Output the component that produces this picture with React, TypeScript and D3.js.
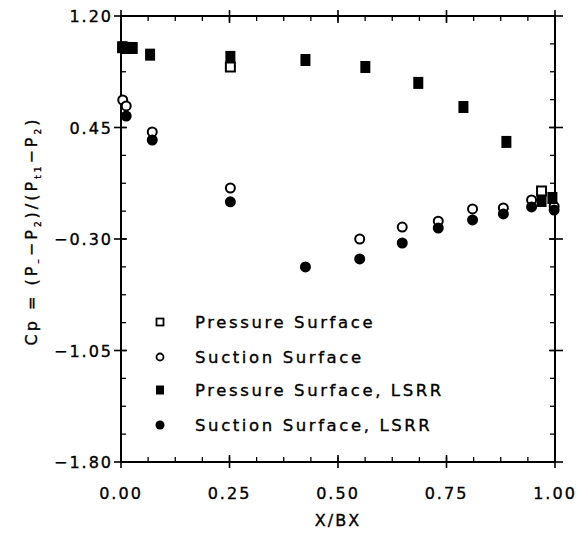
import React from "react";
import * as d3 from "d3";

// ---- data ----
const pressureX = [0.004, 0.252, 0.969];
const pressureY = [0.99, 0.857, 0.023];

const suctionX = [0.004, 0.012, 0.072, 0.252, 0.55, 0.648, 0.731, 0.81, 0.881, 0.946, 0.998];
const suctionY = [0.635, 0.595, 0.42, 0.043, -0.3, -0.22, -0.18, -0.098, -0.091, -0.037, -0.08];

const pressureLsrrX = [0.003, 0.013, 0.027, 0.067, 0.252, 0.425, 0.563, 0.685, 0.789, 0.888, 0.969, 0.994];
const pressureLsrrY = [0.99, 0.985, 0.985, 0.94, 0.925, 0.904, 0.857, 0.75, 0.588, 0.353, -0.044, -0.024];

const suctionLsrrX = [0.012, 0.072, 0.252, 0.425, 0.55, 0.648, 0.731, 0.81, 0.881, 0.946, 0.998];
const suctionLsrrY = [0.527, 0.366, -0.05, -0.488, -0.434, -0.327, -0.226, -0.172, -0.131, -0.084, -0.105];

const xTicks = [0, 0.25, 0.5, 0.75, 1.0];
const yTicks = [1.2, 0.45, -0.3, -1.05, -1.8];
const xTickLabels = ["0.00", "0.25", "0.50", "0.75", "1.00"];
const yTickLabels = ["1.20", "0.45", "\u22120.30", "\u22121.05", "\u22121.80"];

const legendLabels = [
  "Pressure Surface",
  "Suction Surface",
  "Pressure Surface, LSRR",
  "Suction Surface, LSRR",
];

const FONT = "'DejaVu Sans', Verdana, sans-serif";

export default function App() {
  const W = 580;
  const H = 535;
  const left = 121, right = 555, top = 16, bottom = 462;
  const x = d3.scaleLinear().domain([0, 1]).range([left, right]);
  const y = d3.scaleLinear().domain([-1.8, 1.2]).range([bottom, top]);

  const xMinor = d3.range(0, 1.0001, 0.0625);
  const yMinor = d3.range(-1.8, 1.2001, 0.1875);

  const zipP = pressureX.map((v, i) => [v, pressureY[i]]);
  const zipS = suctionX.map((v, i) => [v, suctionY[i]]);
  const zipPL = pressureLsrrX.map((v, i) => [v, pressureLsrrY[i]]);
  const zipSL = suctionLsrrX.map((v, i) => [v, suctionLsrrY[i]]);

  const sq = 10;
  const openSq = 9;
  const r = 5;

  const legendX = 160;
  const legendTextX = 195;
  const legendYs = [322, 357, 390, 425];

  const textStyle = {
    fontFamily: FONT, fontSize: 16, letterSpacing: 2, fill: "#000",
    stroke: "#000", strokeWidth: 0.35,
  } as const;

  return (
    <svg
      width={W}
      height={H}
      viewBox={`0 0 ${W} ${H}`}
      style={{ position: "absolute", left: 0, top: 0, background: "#fff", display: "block" }}
    >
      <rect x={0} y={0} width={W} height={H} fill="#fff" />
      {/* frame */}
      <rect x={left} y={top} width={right - left} height={bottom - top} fill="none" stroke="#000" strokeWidth={2} />

      {/* minor ticks x */}
      {xMinor.map((v, i) => (
        <g key={"xm" + i}>
          <line x1={x(v)} x2={x(v)} y1={bottom} y2={bottom - 5} stroke="#000" strokeWidth={1.3} />
          <line x1={x(v)} x2={x(v)} y1={top} y2={top + 5} stroke="#000" strokeWidth={1.3} />
        </g>
      ))}
      {/* major ticks x */}
      {xTicks.map((v, i) => (
        <g key={"xM" + i}>
          <line x1={x(v)} x2={x(v)} y1={bottom + 6} y2={bottom - 7} stroke="#000" strokeWidth={1.6} />
          <line x1={x(v)} x2={x(v)} y1={top - 6} y2={top + 7} stroke="#000" strokeWidth={1.6} />
          <text x={x(v)} y={499} textAnchor="middle" {...textStyle}>
            {xTickLabels[i]}
          </text>
        </g>
      ))}
      {/* minor ticks y */}
      {yMinor.map((v, i) => (
        <g key={"ym" + i}>
          <line x1={left} x2={left + 5} y1={y(v)} y2={y(v)} stroke="#000" strokeWidth={1.3} />
          <line x1={right} x2={right - 5} y1={y(v)} y2={y(v)} stroke="#000" strokeWidth={1.3} />
        </g>
      ))}
      {/* major ticks y */}
      {yTicks.map((v, i) => (
        <g key={"yM" + i}>
          <line x1={left - 7} x2={left + 6} y1={y(v)} y2={y(v)} stroke="#000" strokeWidth={1.6} />
          <line x1={right - 6} x2={right + 8} y1={y(v)} y2={y(v)} stroke="#000" strokeWidth={1.6} />
          <text x={left - 8} y={y(v) + 6} textAnchor="end" {...textStyle}>
            {yTickLabels[i]}
          </text>
        </g>
      ))}

      {/* axis titles */}
      <text x={x(0.5)} y={526} textAnchor="middle" {...textStyle}>
        X/BX
      </text>
      <text
        transform={`translate(37, 231) rotate(-90)`}
        textAnchor="middle"
        {...textStyle}
        letterSpacing={3}
      >
        <tspan>Cp = (P</tspan>
        <tspan dy={4} fontSize={9}>{"\u2013"}</tspan>
        <tspan dy={-4}>{"\u2212P"}</tspan>
        <tspan dy={4} fontSize={9}>2</tspan>
        <tspan dy={-4}>)/(P</tspan>
        <tspan dy={4} fontSize={9}>t1</tspan>
        <tspan dy={-4}>{"\u2212P"}</tspan>
        <tspan dy={4} fontSize={9}>2</tspan>
        <tspan dy={-4}>)</tspan>
      </text>

      {/* data: pressure surface (open squares) */}
      {zipP.map(([a, b], i) => (
        <rect key={"p" + i} x={x(a) - openSq / 2} y={y(b) - openSq / 2} width={openSq} height={openSq}
          fill="#fff" stroke="#000" strokeWidth={2} />
      ))}
      {/* suction surface (open circles) */}
      {zipS.map(([a, b], i) => (
        <circle key={"s" + i} cx={x(a)} cy={y(b)} r={r - 0.5} fill="#fff" stroke="#000" strokeWidth={2} />
      ))}
      {/* pressure LSRR (filled squares) */}
      {zipPL.map(([a, b], i) => (
        <rect key={"pl" + i} x={x(a) - sq / 2} y={y(b) - sq / 2 - 1} width={sq} height={sq + 2} fill="#000" />
      ))}
      {/* suction LSRR (filled circles) */}
      {zipSL.map(([a, b], i) => (
        <circle key={"sl" + i} cx={x(a)} cy={y(b)} r={r + 0.5} fill="#000" />
      ))}

      {/* legend */}
      <rect x={legendX - 3.5} y={legendYs[0] - 3.5} width={7} height={7} fill="#fff" stroke="#000" strokeWidth={1.8} />
      <circle cx={legendX} cy={legendYs[1]} r={3.5} fill="#fff" stroke="#000" strokeWidth={1.8} />
      <rect x={legendX - 4} y={legendYs[2] - 4.5} width={8} height={9} fill="#000" />
      <circle cx={legendX} cy={legendYs[3]} r={4.5} fill="#000" />
      {legendLabels.map((t, i) => (
        <text key={"lg" + i} x={legendTextX} y={legendYs[i] + 6} {...textStyle} fontSize={16.5} letterSpacing={2.6}>
          {t}
        </text>
      ))}
    </svg>
  );
}
